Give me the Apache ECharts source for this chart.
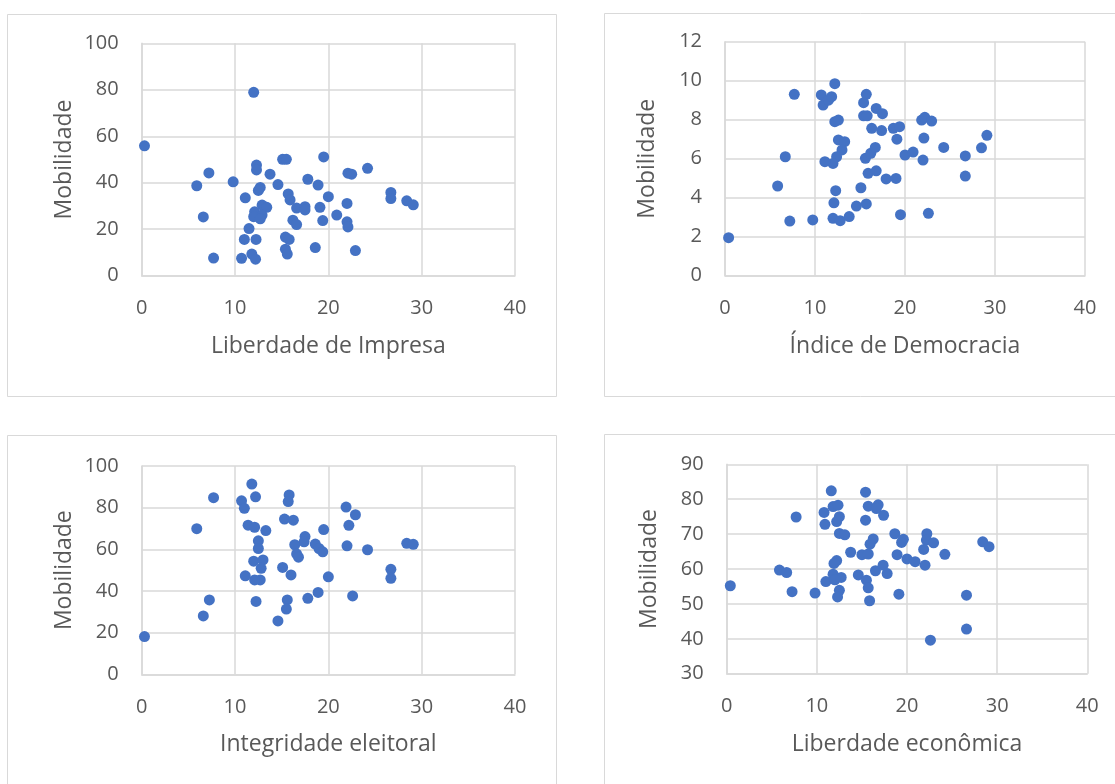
<!DOCTYPE html>
<html>
<head>
<meta charset="utf-8">
<script src="https://cdn.jsdelivr.net/npm/echarts@6/dist/echarts.min.js"></script>
<style>
html,body{margin:0;padding:0;background:#fff;}
#chart{width:1115px;height:784px;}
</style>
</head>
<body>
<div id="chart"></div>
<script>
// ---- Data ----
const impresaPoints = [[0.3,55.9],[5.9,38.7],[6.6,25.3],[7.2,44.2],[7.7,7.6],[9.8,40.4],[10.7,7.5],[11.0,15.6],[11.1,33.5],[11.5,20.3],[11.8,9.3],[12.0,78.9],[12.2,7.1],[12.25,15.6],[12.3,47.6],[12.3,45.5],[12.5,36.7],[12.7,38.0],[12.9,30.4],[13.4,29.4],[12.1,27.5],[12.9,26.1],[12.0,25.4],[12.7,24.5],[13.75,43.7],[14.6,39.2],[15.1,50.1],[15.5,50.1],[15.4,16.6],[15.8,15.6],[15.4,11.4],[15.6,9.3],[15.7,35.2],[15.9,32.6],[16.2,23.9],[16.6,22.0],[16.6,29.1],[17.5,29.7],[17.5,28.3],[17.8,41.5],[18.6,12.1],[18.9,39.0],[19.1,29.4],[19.4,23.7],[19.5,51.1],[20.0,34.0],[20.9,26.1],[22.0,31.1],[22.0,23.2],[22.1,21.0],[22.1,44.1],[22.5,43.7],[22.9,10.8],[24.2,46.2],[26.7,35.8],[26.7,33.2],[28.4,32.2],[29.1,30.5]];

const democraciaPoints = [[0.4,1.95],[5.85,4.6],[6.7,6.1],[7.2,2.8],[7.7,9.3],[9.75,2.86],[10.7,9.27],[10.9,8.75],[11.5,9.0],[11.85,9.18],[12.2,9.85],[12.2,7.9],[12.6,7.98],[12.6,6.96],[13.3,6.87],[13.0,6.45],[12.4,6.1],[12.0,5.76],[11.1,5.85],[12.3,4.36],[12.1,3.74],[12.0,2.94],[12.8,2.82],[13.8,3.03],[14.6,3.57],[15.7,3.68],[15.1,4.51],[15.9,5.25],[16.8,5.38],[17.9,4.96],[19.0,4.99],[15.6,6.02],[16.2,6.28],[16.7,6.58],[15.7,9.3],[15.4,8.87],[16.8,8.58],[17.5,8.31],[15.4,8.2],[15.8,8.2],[16.3,7.56],[17.4,7.44],[18.7,7.56],[19.4,7.64],[19.1,7.0],[20.0,6.19],[20.9,6.34],[22.0,5.93],[22.1,7.06],[21.85,7.98],[22.2,8.12],[22.96,7.93],[24.3,6.58],[19.5,3.13],[22.6,3.2],[26.7,6.14],[26.7,5.11],[28.5,6.56],[29.1,7.2]];

const integridadePoints = [[0.3,18.1],[5.9,69.9],[6.6,28.0],[7.25,35.7],[7.7,84.8],[10.7,83.3],[11.0,79.7],[11.8,91.3],[12.2,85.2],[11.4,71.6],[12.1,70.6],[13.3,69.0],[12.5,64.1],[12.5,60.4],[12.0,54.3],[13.0,54.9],[12.8,50.9],[12.7,45.3],[12.1,45.3],[11.1,47.3],[12.25,35.0],[15.8,86.1],[15.7,82.9],[15.3,74.5],[16.25,74.0],[15.1,51.3],[16.0,47.7],[15.6,35.7],[15.5,31.3],[14.6,25.6],[17.5,66.1],[17.4,63.6],[16.4,62.2],[16.6,57.8],[16.8,56.2],[18.6,62.5],[19.0,60.4],[19.4,58.8],[19.5,69.5],[20.0,46.8],[17.8,36.5],[18.9,39.3],[21.9,80.3],[22.9,76.6],[22.2,71.5],[22.0,61.7],[22.6,37.6],[24.2,59.8],[26.7,50.4],[26.7,46.1],[28.4,62.9],[29.1,62.4]];

const economicaPoints = [[0.4,55.2],[5.85,59.7],[6.65,59.0],[7.25,53.5],[7.7,74.9],[9.8,53.1],[10.8,76.2],[10.9,72.8],[11.6,82.4],[11.8,77.9],[12.35,78.3],[12.5,75.0],[12.2,73.6],[12.5,70.2],[13.1,69.8],[12.2,62.4],[11.9,61.6],[11.8,58.5],[12.7,57.6],[11.0,56.4],[12.0,56.9],[12.5,53.9],[12.3,52.0],[13.75,64.8],[14.6,58.3],[15.0,64.1],[15.7,64.3],[15.5,56.8],[15.7,54.6],[15.85,50.9],[15.4,82.0],[15.7,78.0],[16.8,78.4],[16.6,77.3],[17.4,75.4],[15.4,74.0],[16.25,68.6],[15.9,67.1],[16.5,59.5],[17.35,61.1],[17.8,58.7],[18.65,70.1],[19.6,68.5],[19.4,67.6],[18.9,64.1],[19.1,52.8],[20.0,62.9],[20.9,62.1],[22.0,61.1],[22.2,70.1],[22.15,68.3],[22.95,67.5],[21.85,65.6],[22.6,39.6],[24.2,64.2],[26.6,52.5],[26.6,42.8],[28.4,67.8],[29.1,66.4]];

const xTitles = ['Liberdade de Impresa', 'Índice de Democracia', 'Integridade eleitoral', 'Liberdade econômica'];
const yTitle = 'Mobilidade';
const xTicks = {min: 0, max: 40, interval: 10};
const yTicks = [
  {min: 0, max: 100, interval: 20},
  {min: 0, max: 12, interval: 2},
  {min: 0, max: 100, interval: 20},
  {min: 30, max: 90, interval: 10}
];

// ---- Layout / style ----
const FONT = '"Open Sans"';
const TXT = '#595959';
const GRIDC = '#d9d9d9';
const DOT = '#4472C4';

const grids = [
  {left: 141.7, top: 43.3, width: 373.3, height: 232.4},
  {left: 725, top: 41.7, width: 360, height: 234},
  {left: 141.7, top: 466, width: 373.3, height: 208.3},
  {left: 726.7, top: 464.3, width: 360.6, height: 209.4}
];
const boxes = [
  {x: 7, y: 14, width: 549, height: 382},
  {x: 604, y: 13, width: 530, height: 383},
  {x: 7, y: 435, width: 549, height: 370},
  {x: 604, y: 434, width: 530, height: 370}
];
const allData = [impresaPoints, democraciaPoints, integridadePoints, economicaPoints];

const chart = echarts.init(document.getElementById('chart'), null, {renderer: 'canvas'});

const option = {
  animation: false,
  backgroundColor: '#fff',
  graphic: boxes.map(b => ({
    type: 'rect', silent: true, z: -10,
    shape: {x: b.x + 0.5, y: b.y + 0.5, width: b.width, height: b.height},
    style: {fill: '#fff', stroke: GRIDC, lineWidth: 1}
  })),
  grid: grids.map(g => Object.assign({containLabel: false}, g)),
  xAxis: grids.map((g, i) => ({
    type: 'value', gridIndex: i,
    min: xTicks.min, max: xTicks.max, interval: xTicks.interval,
    name: xTitles[i], nameLocation: 'middle', nameGap: 59,
    nameTextStyle: {color: TXT, fontFamily: FONT, fontSize: 23},
    axisLine: {show: true, onZero: false, lineStyle: {color: GRIDC, width: 1.5}},
    axisTick: {show: false},
    axisLabel: {color: TXT, fontFamily: FONT, fontSize: 20, margin: 23},
    splitLine: {show: true, lineStyle: {color: GRIDC, width: 1.5}}
  })),
  yAxis: grids.map((g, i) => ({
    type: 'value', gridIndex: i,
    min: yTicks[i].min, max: yTicks[i].max, interval: yTicks[i].interval,
    name: yTitle, nameLocation: 'middle', nameGap: 66,
    nameTextStyle: {color: TXT, fontFamily: FONT, fontSize: 23},
    axisLine: {show: true, onZero: false, lineStyle: {color: GRIDC, width: 1.5}},
    axisTick: {show: false},
    axisLabel: {color: TXT, fontFamily: FONT, fontSize: 20, margin: 23},
    splitLine: {show: true, lineStyle: {color: GRIDC, width: 1.5}}
  })),
  series: allData.map((d, i) => ({
    type: 'scatter', xAxisIndex: i, yAxisIndex: i,
    data: d, symbol: 'circle', symbolSize: 11,
    itemStyle: {color: DOT, opacity: 1},
    emphasis: {disabled: true}
  }))
};
chart.setOption(option);
</script>
</body>
</html>
